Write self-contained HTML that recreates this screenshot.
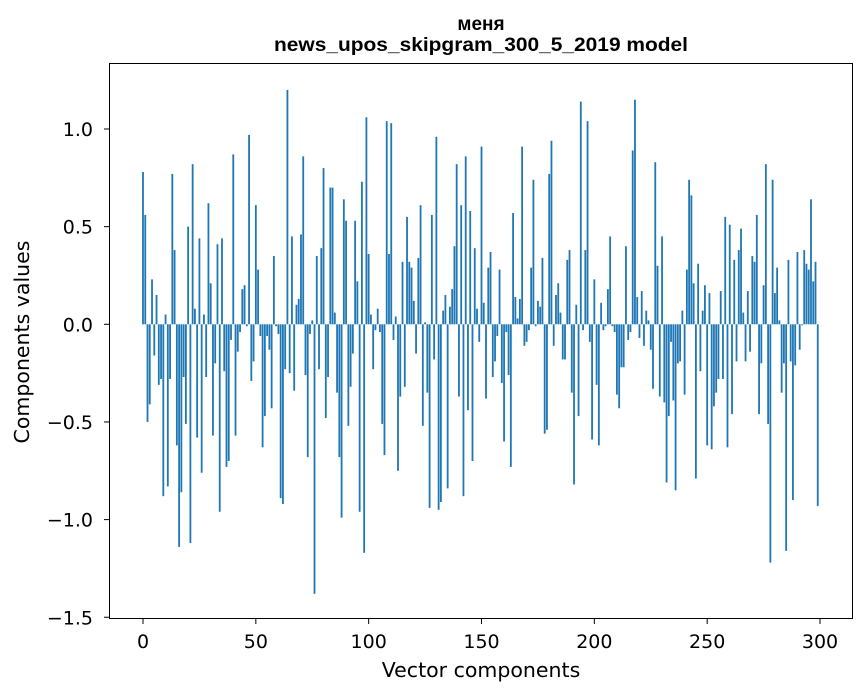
<!DOCTYPE html>
<html><head><meta charset="utf-8"><style>
body{margin:0;background:#fff;}
svg{display:block;font-family:"DejaVu Sans","Liberation Sans",sans-serif;}
</style></head><body>
<svg id="chart" width="867" height="696" viewBox="0 0 867 696">
<rect width="867" height="696" fill="#fff"/>
<text x="481" y="30" text-anchor="middle" font-size="19" font-weight="bold" font-family="Liberation Sans, sans-serif">меня</text>
<text x="481" y="51" text-anchor="middle" font-size="19" font-weight="bold" font-family="Liberation Sans, sans-serif" textLength="414" lengthAdjust="spacingAndGlyphs">news_upos_skipgram_300_5_2019 model</text>
<g id="bars"></g>
<g id="axes"></g>
<rect x="109.5" y="63.5" width="743" height="555" fill="none" stroke="#000" stroke-width="1"/>
<text x="481" y="677" text-anchor="middle" font-size="20.5">Vector components</text>
<text transform="translate(29,342) rotate(-90)" text-anchor="middle" font-size="20.5">Components values</text>
</svg>
<script>
const values = [0.78,0.56,-0.50,-0.41,0.23,-0.16,0.15,-0.31,-0.28,-0.88,
0.05,-0.83,-0.28,0.77,0.38,-0.62,-1.14,-0.86,-0.27,-0.51,
0.50,-1.12,0.82,0.08,-0.58,0.44,-0.76,0.05,-0.27,0.62,
0.21,-0.57,-0.20,0.41,-0.96,0.44,-0.24,-0.73,-0.70,-0.08,
0.87,-0.57,-0.14,-0.04,0.18,0.20,-0.01,0.97,-0.29,-0.19,
0.61,0.28,-0.06,-0.63,-0.47,-0.06,-0.13,-0.43,0.35,-0.01,
-0.05,-0.89,-0.92,-0.23,1.20,-0.25,0.45,-0.34,0.10,0.13,
0.46,0.86,-0.26,-0.68,-0.05,0.02,-1.38,0.35,-0.23,0.39,
0.80,-0.48,-0.27,0.70,0.70,0.06,-0.35,-0.68,-0.99,0.64,
0.53,-0.52,-0.32,-0.15,0.53,0.22,-0.96,0.73,-1.17,1.06,
0.36,0.05,-0.23,-0.03,0.08,-0.04,-0.51,-0.67,1.04,0.36,
1.03,-0.08,0.04,-0.75,-0.37,0.32,-0.32,0.55,0.32,0.29,
0.12,-0.15,0.34,0.61,-0.52,0.01,-0.35,-0.94,0.56,-0.18,
0.96,-0.95,-0.91,0.07,0.15,-0.84,0.09,0.18,0.40,0.82,
-0.37,0.61,-0.88,0.86,-0.44,0.58,-0.70,0.39,0.08,-0.09,
0.91,0.11,-0.38,0.29,0.37,-0.27,-0.19,-0.06,0.28,-0.30,
-0.60,-0.04,-0.26,-0.73,0.57,0.14,0.03,0.13,0.91,-0.11,
-0.09,-0.03,0.29,0.74,-0.01,0.12,0.09,0.34,-0.56,-0.54,
0.77,0.94,-0.11,0.15,0.21,0.06,-0.18,-0.18,0.33,0.38,
-0.35,-0.82,0.10,-0.47,1.14,-0.03,0.38,1.04,-0.09,-0.59,
0.23,-0.31,-0.62,0.11,-0.03,-0.01,0.18,0.45,-0.01,-0.04,
-0.36,-0.43,-0.22,-0.22,0.40,-0.08,-0.04,0.89,1.15,0.14,
-0.07,0.17,-0.11,0.07,0.02,-0.13,-0.33,0.83,0.30,-0.37,
0.45,-0.40,-0.81,-0.47,-0.09,-0.39,-0.85,-0.20,-0.19,0.07,
-0.36,0.28,0.74,0.66,0.21,-0.79,0.31,-0.24,0.07,0.20,
-0.62,0.16,-0.64,-0.42,-0.35,-0.28,0.17,-0.28,0.55,-0.63,
0.51,-0.46,0.33,-0.19,0.38,0.49,0.06,-0.19,0.17,-0.14,
0.35,0.32,0.56,-0.46,-0.20,0.20,0.82,-0.51,-1.22,0.74,
0.16,0.29,0.02,-0.35,-0.20,-1.16,0.33,-0.19,-0.90,-0.21,
0.37,-0.13,-0.005,0.38,0.31,0.28,0.64,0.22,0.32,-0.93];
const xTicks = [0,50,100,150,200,250,300];
const yTicks = [-1.5,-1.0,-0.5,0.0,0.5,1.0];
const yTickLabels = ["\u22121.5","\u22121.0","\u22120.5","0.0","0.5","1.0"];

const NS = "http://www.w3.org/2000/svg";
function xScale(v){ return 143 + v * 2.2567; }
function yScale(v){ return 324.3 - v * 195.3; }

const barsG = document.getElementById('bars');
values.forEach((v, i) => {
  const r = document.createElementNS(NS, 'rect');
  const x0 = xScale(i - 0.4), x1 = xScale(i + 0.4);
  const y0 = yScale(Math.max(v, 0)), y1 = yScale(Math.min(v, 0));
  r.setAttribute('x', x0);
  r.setAttribute('width', x1 - x0);
  r.setAttribute('y', y0);
  r.setAttribute('height', Math.max(y1 - y0, 0.3));
  r.setAttribute('fill', '#1f77b4');
  
  
  barsG.appendChild(r);
});

const axesG = document.getElementById('axes');
xTicks.forEach(t => {
  const x = xScale(t);
  const l = document.createElementNS(NS, 'line');
  l.setAttribute('x1', x); l.setAttribute('x2', x);
  l.setAttribute('y1', 619); l.setAttribute('y2', 624);
  l.setAttribute('stroke', '#000');
  
  
  axesG.appendChild(l);
  const tx = document.createElementNS(NS, 'text');
  tx.setAttribute('x', x); tx.setAttribute('y', 648);
  tx.setAttribute('text-anchor', 'middle');
  tx.setAttribute('font-size', '19');
  tx.textContent = t;
  
  
  axesG.appendChild(tx);
});
yTicks.forEach((t, i) => {
  const y = yScale(t);
  const l = document.createElementNS(NS, 'line');
  l.setAttribute('x1', 104); l.setAttribute('x2', 109);
  l.setAttribute('y1', y); l.setAttribute('y2', y);
  l.setAttribute('stroke', '#000');
  
  
  axesG.appendChild(l);
  const tx = document.createElementNS(NS, 'text');
  tx.setAttribute('x', 93); tx.setAttribute('y', y + 7);
  tx.setAttribute('text-anchor', 'end');
  tx.setAttribute('font-size', '19');
  tx.textContent = yTickLabels[i];
  
  
  axesG.appendChild(tx);
});
</script>
</body></html>
